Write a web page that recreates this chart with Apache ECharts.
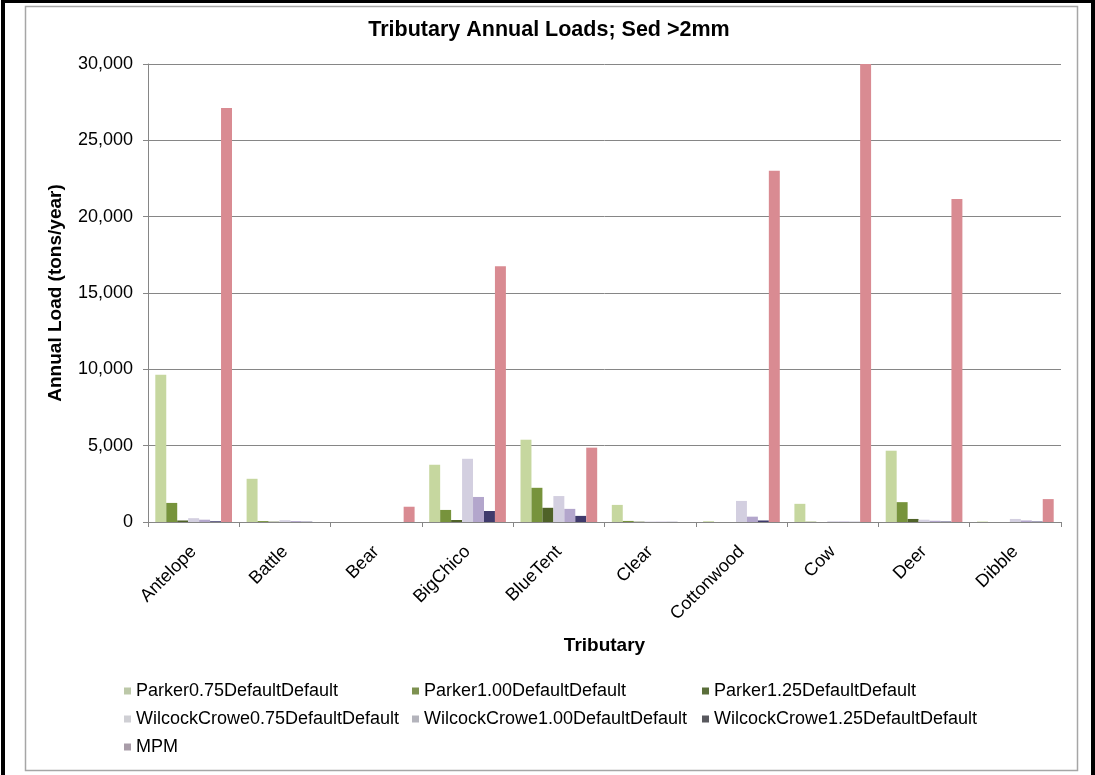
<!DOCTYPE html>
<html>
<head>
<meta charset="utf-8">
<script src="https://cdn.jsdelivr.net/npm/echarts@6/dist/echarts.min.js"></script>
<style>
html,body{margin:0;padding:0;background:#fff;}
#chart{width:1095px;height:775px;}
</style>
</head>
<body>
<div id="chart"></div>
<script>
var categories = ['Antelope','Battle','Bear','BigChico','BlueTent','Clear','Cottonwood','Cow','Deer','Dibble'];
var seriesNames = ['Parker0.75DefaultDefault','Parker1.00DefaultDefault','Parker1.25DefaultDefault','WilcockCrowe0.75DefaultDefault','WilcockCrowe1.00DefaultDefault','WilcockCrowe1.25DefaultDefault','MPM'];
var parker075 = [9650, 2830, 0, 3750, 5390, 1120, 50, 1190, 4670, 30];
var parker100 = [1250, 60, 0, 790, 2240, 70, 0, 20, 1300, 0];
var parker125 = [100, 20, 0, 130, 930, 20, 0, 0, 200, 0];
var wc075 = [250, 120, 0, 4140, 1700, 30, 1380, 50, 150, 200];
var wc100 = [150, 60, 0, 1640, 860, 20, 350, 30, 80, 100];
var wc125 = [50, 20, 0, 720, 400, 10, 100, 10, 30, 30];
var mpm = [27120, 0, 1000, 16750, 4870, 0, 23000, 30000, 21150, 1500];
var yTicks = [0, 5000, 10000, 15000, 20000, 25000, 30000];

var barColors = ['#c6d79f','#77933c','#4f6228','#d3cfe0','#b3a6cc','#3f3a6c','#d98b92'];
var legendColors = ['#bcc8a8','#7d9150','#5a6e3a','#cfcfd4','#b4b4bc','#58585e','#a89ca8'];
var allData = [parker075, parker100, parker125, wc075, wc100, wc125, mpm];

var FONT = '"Liberation Sans", Arial, sans-serif';
var chart = echarts.init(document.getElementById('chart'), null, {renderer:'canvas'});

var series = seriesNames.map(function(n, i){
  return {
    name: n, type: 'bar', data: allData[i],
    barGap: '0%', barCategoryGap: '16%',
    itemStyle: {color: barColors[i]}
  };
});

var legendPos = [
  [124, 681], [412, 681], [702, 681],
  [124, 709], [412, 709], [702, 709],
  [124, 737]
];
var legends = seriesNames.map(function(n, i){
  return {
    left: legendPos[i][0], top: legendPos[i][1], padding: 0,
    data: [{name: n, itemStyle: {color: legendColors[i]}}],
    icon: 'rect', itemWidth: 7, itemHeight: 7, itemGap: 4,
    textStyle: {fontFamily: FONT, fontSize: 18, color: '#000', lineHeight: 20},
    selectedMode: false
  };
});

chart.setOption({
  animation: false,
  backgroundColor: '#fff',
  graphic: [
    {type:'rect', shape:{x:3, y:1, width:1090, height:790}, style:{fill:'none', stroke:'#000', lineWidth:4}, silent:true},
    {type:'rect', shape:{x:25.5, y:6.5, width:1052, height:764}, style:{fill:'none', stroke:'#a6a6a6', lineWidth:1.5}, silent:true}
  ],
  title: {
    text: 'Tributary Annual Loads; Sed >2mm',
    left: 549, top: 19, textAlign: 'center', padding: 0,
    textStyle: {fontFamily: FONT, fontSize: 21.5, fontWeight: 'bold', color: '#000'}
  },
  legend: legends,
  grid: {left: 148, top: 64, width: 913, height: 458, containLabel: false},
  xAxis: {
    type: 'category', data: categories,
    name: 'Tributary', nameLocation: 'middle', nameGap: 114,
    nameTextStyle: {fontFamily: FONT, fontSize: 19, fontWeight: 'bold', color: '#000'},
    axisLine: {lineStyle: {color: '#868686', width: 1}},
    axisTick: {show: true, length: 5, lineStyle: {color: '#868686'}},
    axisLabel: {rotate: 45, fontFamily: FONT, fontSize: 18, color: '#000', margin: 27, interval: 0},
    splitLine: {show: false}
  },
  yAxis: {
    type: 'value', min: yTicks[0], max: yTicks[yTicks.length-1], interval: 5000,
    name: 'Annual Load (tons/year)', nameLocation: 'middle', nameGap: 83,
    nameTextStyle: {fontFamily: FONT, fontSize: 19, fontWeight: 'bold', color: '#000'},
    axisLine: {show: true, lineStyle: {color: '#868686', width: 1}},
    axisTick: {show: true, length: 5, lineStyle: {color: '#868686'}},
    axisLabel: {fontFamily: FONT, fontSize: 18, color: '#000', margin: 15,
      formatter: function(v){ return v.toLocaleString('en-US'); }},
    splitLine: {show: true, lineStyle: {color: '#868686', width: 1}}
  },
  series: series
});
</script>
</body>
</html>
